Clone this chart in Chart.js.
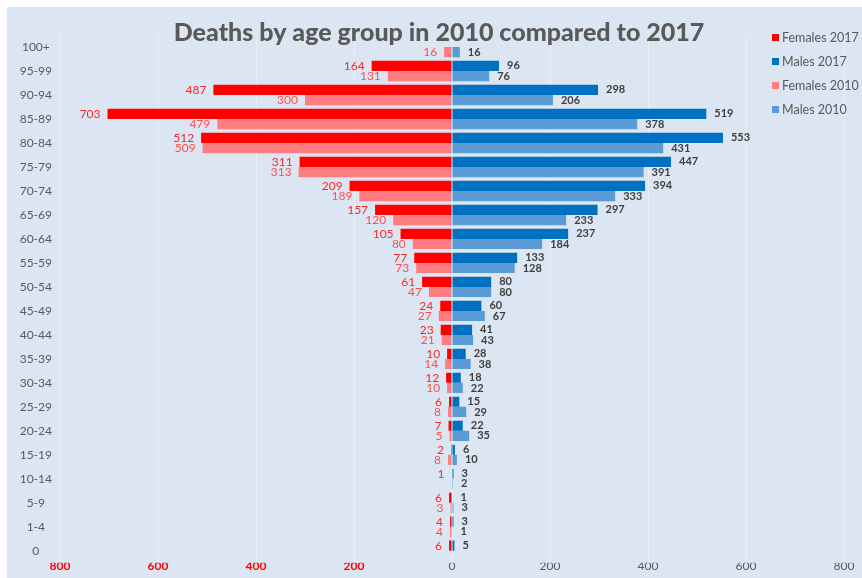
<!DOCTYPE html>
<html>
<head>
<meta charset="utf-8">
<script src="https://cdn.jsdelivr.net/npm/chart.js@4/dist/chart.umd.min.js"></script>
<style>
  html, body { margin: 0; padding: 0; background: #ffffff; }
  #wrap { width: 862px; height: 578px; }
</style>
</head>
<body>
<div id="wrap"><canvas id="c" width="862" height="578"></canvas></div>
<script>
const title = 'Deaths by age group in 2010 compared to 2017';
const categories = ['100+','95-99','90-94','85-89','80-84','75-79','70-74','65-69','60-64','55-59','50-54','45-49','40-44','35-39','30-34','25-29','20-24','15-19','10-14','5-9','1-4','0'];
const females2017 = [null,164,487,703,512,311,209,157,105,77,61,24,23,10,12,6,7,2,1,6,4,6];
const males2017   = [null,96,298,519,553,447,394,297,237,133,80,60,41,28,18,15,22,6,3,1,3,5];
const females2010 = [16,131,300,479,509,313,189,120,80,73,47,27,21,14,10,8,5,8,null,3,4,null];
const males2010   = [16,76,206,378,431,391,333,233,184,128,80,67,43,38,22,29,35,10,2,3,1,null];
const xTicks = [-800,-600,-400,-200,0,200,400,600,800];

const neg = arr => arr.map(v => v === null ? null : -v);

const bgPlugin = {
  id: 'bg',
  beforeDraw(chart) {
    const ctx = chart.ctx;
    ctx.save();
    ctx.fillStyle = '#dce6f2';
    ctx.fillRect(7, 7, chart.width - 7, chart.height - 7);
    ctx.restore();
  }
};

const labelPlugin = {
  id: 'barLabels',
  afterDatasetsDraw(chart) {
    const ctx = chart.ctx;
    ctx.save();
    ctx.textBaseline = 'middle';
    chart.data.datasets.forEach((ds, di) => {
      const meta = chart.getDatasetMeta(di);
      meta.data.forEach((el, i) => {
        const v = ds.data[i];
        if (v === null || v === undefined) return;
        if (v < 0) {
          ctx.font = '12px Lato, "Liberation Sans", sans-serif';
          ctx.fillStyle = ds.labelColor;
          ctx.textAlign = 'right';
          ctx.fillText(String(Math.abs(v)), el.x - 7, el.y);
        } else {
          ctx.font = 'bold 11px Lato, "Liberation Sans", sans-serif';
          ctx.fillStyle = '#404040';
          ctx.textAlign = 'left';
          ctx.fillText(String(v), el.x + 8, el.y);
        }
      });
    });
    ctx.restore();
  }
};

const overlayPlugin = {
  id: 'overlay',
  afterDraw(chart) {
    const ctx = chart.ctx;
    ctx.save();
    // title
    ctx.font = '900 25px Lato, "DejaVu Sans", sans-serif';
    ctx.fillStyle = '#595959';
    ctx.textAlign = 'center';
    ctx.textBaseline = 'middle';
    ctx.fillText(title, 439, 33);
    // legend
    ctx.font = '12.5px Lato, "Liberation Sans", sans-serif';
    ctx.textAlign = 'left';
    chart.data.datasets.forEach((ds, i) => {
      const y = 38 + i * 24;
      ctx.fillStyle = ds.backgroundColor;
      ctx.fillRect(772, y - 4, 7, 7);
      ctx.fillStyle = '#595959';
      ctx.fillText(ds.label, 782, y);
    });
    ctx.restore();
  }
};

new Chart(document.getElementById('c'), {
  type: 'bar',
  data: {
    labels: categories,
    datasets: [
      { label: 'Females 2017', data: neg(females2017), backgroundColor: '#ff0000', labelColor: '#f52a2a', stack: 'y2017' },
      { label: 'Males 2017', data: males2017, backgroundColor: '#0070c0', stack: 'y2017' },
      { label: 'Females 2010', data: neg(females2010), backgroundColor: '#ff7c80', labelColor: '#ff4d4d', stack: 'y2010' },
      { label: 'Males 2010', data: males2010, backgroundColor: '#5b9bd5', stack: 'y2010' }
    ]
  },
  options: {
    indexAxis: 'y',
    responsive: false,
    animation: false,
    devicePixelRatio: 1,
    categoryPercentage: 0.85,
    barPercentage: 1.0,
    layout: { padding: { left: 10, top: 35, right: 18, bottom: 0 } },
    plugins: {
      legend: { display: false },
      title: { display: false },
      tooltip: { enabled: false }
    },
    scales: {
      x: {
        stacked: true,
        min: -800,
        max: 800,
        afterBuildTicks(scale) { scale.ticks = xTicks.map(v => ({ value: v })); },
        afterFit(scale) { scale.height = 15; },
        ticks: {
          callback: v => String(Math.abs(v)),
          color: c => (c.tick && c.tick.value < 0) ? '#ff0000' : '#595959',
          font: c => ({ family: 'Lato, "Liberation Sans", sans-serif', size: 12, weight: (c.tick && c.tick.value < 0) ? 'bold' : 'normal' }),
          padding: -4,
          maxRotation: 0
        },
        grid: { color: '#e9eff7', lineWidth: 1, drawTicks: false },
        border: { display: false }
      },
      y: {
        afterFit(scale) { scale.width = 50; },
        ticks: {
          color: '#595959',
          font: { family: 'Lato, "Liberation Sans", sans-serif', size: 12 },
          crossAlign: 'center',
          padding: 8,
          autoSkip: false
        },
        grid: { display: false, drawTicks: false },
        border: { display: false }
      }
    }
  },
  plugins: [bgPlugin, labelPlugin, overlayPlugin]
});
</script>
</body>
</html>
